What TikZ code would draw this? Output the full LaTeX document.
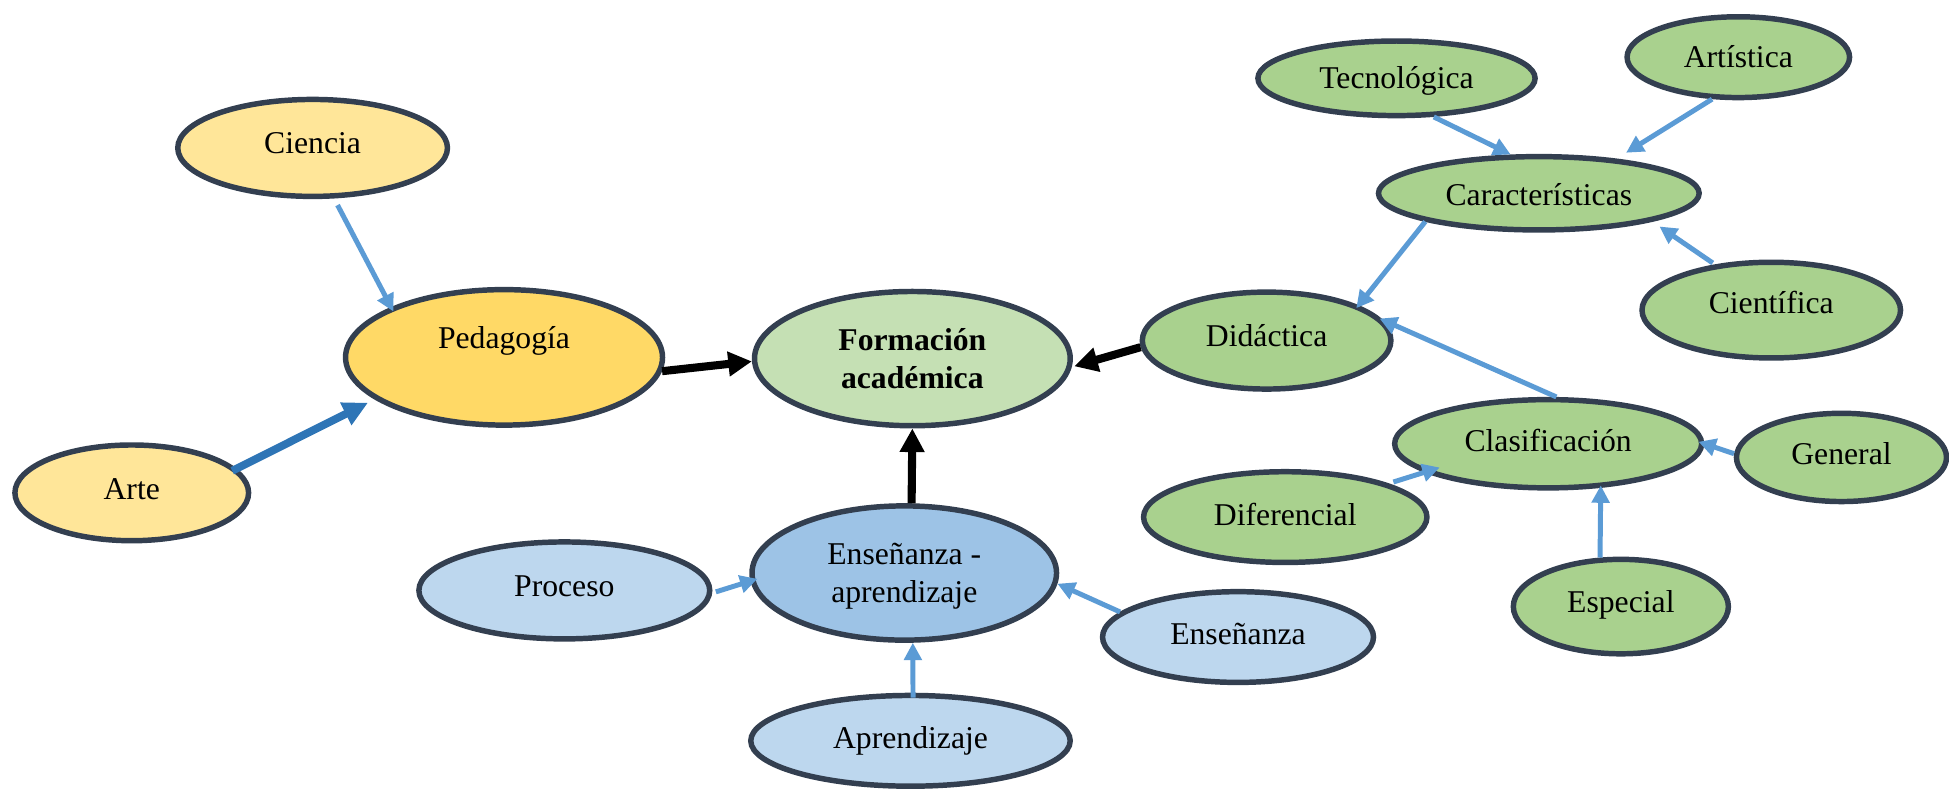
\documentclass[tikz,border=0pt]{standalone}
\usepackage{fontspec}
\setmainfont{Liberation Serif}
\usetikzlibrary{arrows.meta,shapes.geometric}
\definecolor{bd}{HTML}{333F50}
\definecolor{yl}{HTML}{FFE699}
\definecolor{pd}{HTML}{FFD966}
\definecolor{fg}{HTML}{C5E0B4}
\definecolor{gr}{HTML}{A9D18E}
\definecolor{eb}{HTML}{9DC3E6}
\definecolor{bl}{HTML}{BDD7EE}
\definecolor{lblue}{HTML}{5B9BD5}
\definecolor{dblue}{HTML}{2E75B6}
\newcommand{\RT}[2]{\raisebox{#1pt}[0pt][0pt]{#2}}
\newcommand{\TwoL}[2]{\begin{tabular}[b]{@{}c@{}}#1\\#2\end{tabular}}
\begin{document}
\begin{tikzpicture}[x=1pt,y=-1pt,
  ell/.style={ellipse, draw=bd, line width=4.4pt, inner sep=0pt,
    font=\fontsize{25.5}{30.5}\selectfont},
  lb/.style={draw=lblue, line width=4pt, -{Triangle[length=14pt,width=14pt]}},
  db/.style={draw=dblue, line width=6.3pt, -{Triangle[length=20pt,width=19pt]}},
  bk/.style={draw=black, line width=6.5pt, -{Triangle[length=19pt,width=19pt]}}
]
\useasboundingbox (0,0) rectangle (1568,636);

% nodes
\node[ell, fill=yl, minimum width=217pt, minimum height=78pt] (ciencia) at (251.5,119) {\RT{-4.5}{Ciencia}};
\node[ell, fill=pd, minimum width=255pt, minimum height=109pt] (pedagogia) at (405.5,287.5) {\RT{7}{Pedagogía}};
\node[ell, fill=yl, minimum width=188pt, minimum height=77pt] (arte) at (106,396.5) {\RT{-5}{Arte}};
\node[ell, fill=fg, minimum width=254pt, minimum height=108pt] (formacion) at (734,288.5) {\RT{-24}{\bfseries\TwoL{Formación}{académica}}};
\node[ell, fill=gr, minimum width=200pt, minimum height=78pt] (didactica) at (1019,274) {\RT{-4.5}{Didáctica}};
\node[ell, fill=gr, minimum width=228pt, minimum height=73pt] (diferencial) at (1034,416) {\RT{-7}{Diferencial}};
\node[ell, fill=eb, minimum width=245pt, minimum height=108pt] (ea) at (727.5,461) {\RT{-23.5}{\TwoL{Enseñanza -}{aprendizaje}}};
\node[ell, fill=bl, minimum width=218pt, minimum height=73pt] (ensenanza) at (996,512.5) {\RT{-6}{Enseñanza}};
\node[ell, fill=bl, minimum width=257pt, minimum height=73pt] (aprendizaje) at (732.5,596) {\RT{-6.5}{Aprendizaje}};
\node[ell, fill=bl, minimum width=234pt, minimum height=78pt] (proceso) at (454,475) {\RT{-4.5}{Proceso}};
\node[ell, fill=gr, minimum width=223pt, minimum height=60pt] (tecnologica) at (1123.5,63) {\RT{-8.5}{Tecnológica}};
\node[ell, fill=gr, minimum width=179pt, minimum height=65pt] (artistica) at (1398.5,46) {\RT{-8.5}{Artística}};
\node[ell, fill=gr, minimum width=258pt, minimum height=59pt] (caracteristicas) at (1238,155.5) {\RT{-9.5}{Características}};
\node[ell, fill=gr, minimum width=208pt, minimum height=77pt] (cientifica) at (1425,249.5) {\RT{-3}{Científica}};
\node[ell, fill=gr, minimum width=247pt, minimum height=71pt] (clasificacion) at (1245.5,357) {\RT{-6.5}{Clasificación}};
\node[ell, fill=gr, minimum width=169pt, minimum height=71pt] (general) at (1481.5,368) {\RT{-6}{General}};
\node[ell, fill=gr, minimum width=173pt, minimum height=76pt] (especial) at (1304,488) {\RT{-5}{Especial}};

% connectors
\draw[lb, shorten <=6pt, shorten >=-4pt] (ciencia.-67) -- (pedagogia.156);
\draw[db, shorten <=-4pt, shorten >=6pt] (arte.13) -- (pedagogia.-162);
\draw[bk] (pedagogia.-5) -- (formacion.181);
\draw[bk, shorten >=2pt] (didactica.183) -- (formacion.-3);
\draw[bk] (ea.84) -- (formacion.-90);

\draw[lb] (tecnologica.-46) -- (caracteristicas.126);
\draw[lb, shorten >=9pt] (artistica.238) -- (caracteristicas.24);
\draw[lb, shorten >=-3pt] (caracteristicas.194) -- (didactica.21);
\draw[lb, shorten <=2pt, shorten >=7pt] (cientifica.141) -- (caracteristicas.-14);
\draw[lb, shorten >=-3pt] (clasificacion.80) -- (didactica.10);
\draw[lb, shorten >=-5pt] (general.178) -- (clasificacion.0);
\draw[lb, shorten <=4pt, shorten >=-13pt] (diferencial.18) -- (clasificacion.-167);
\draw[lb, shorten >=-2pt] (especial.113) -- (clasificacion.-40);

\draw[lb, shorten <=3pt, shorten >=-6pt] (proceso.-1) -- (ea.183);
\draw[lb] (ensenanza.168) -- (ea.-4);
\draw[lb, shorten <=-4pt] (aprendizaje.87) -- (ea.-83);
\end{tikzpicture}
\end{document}
